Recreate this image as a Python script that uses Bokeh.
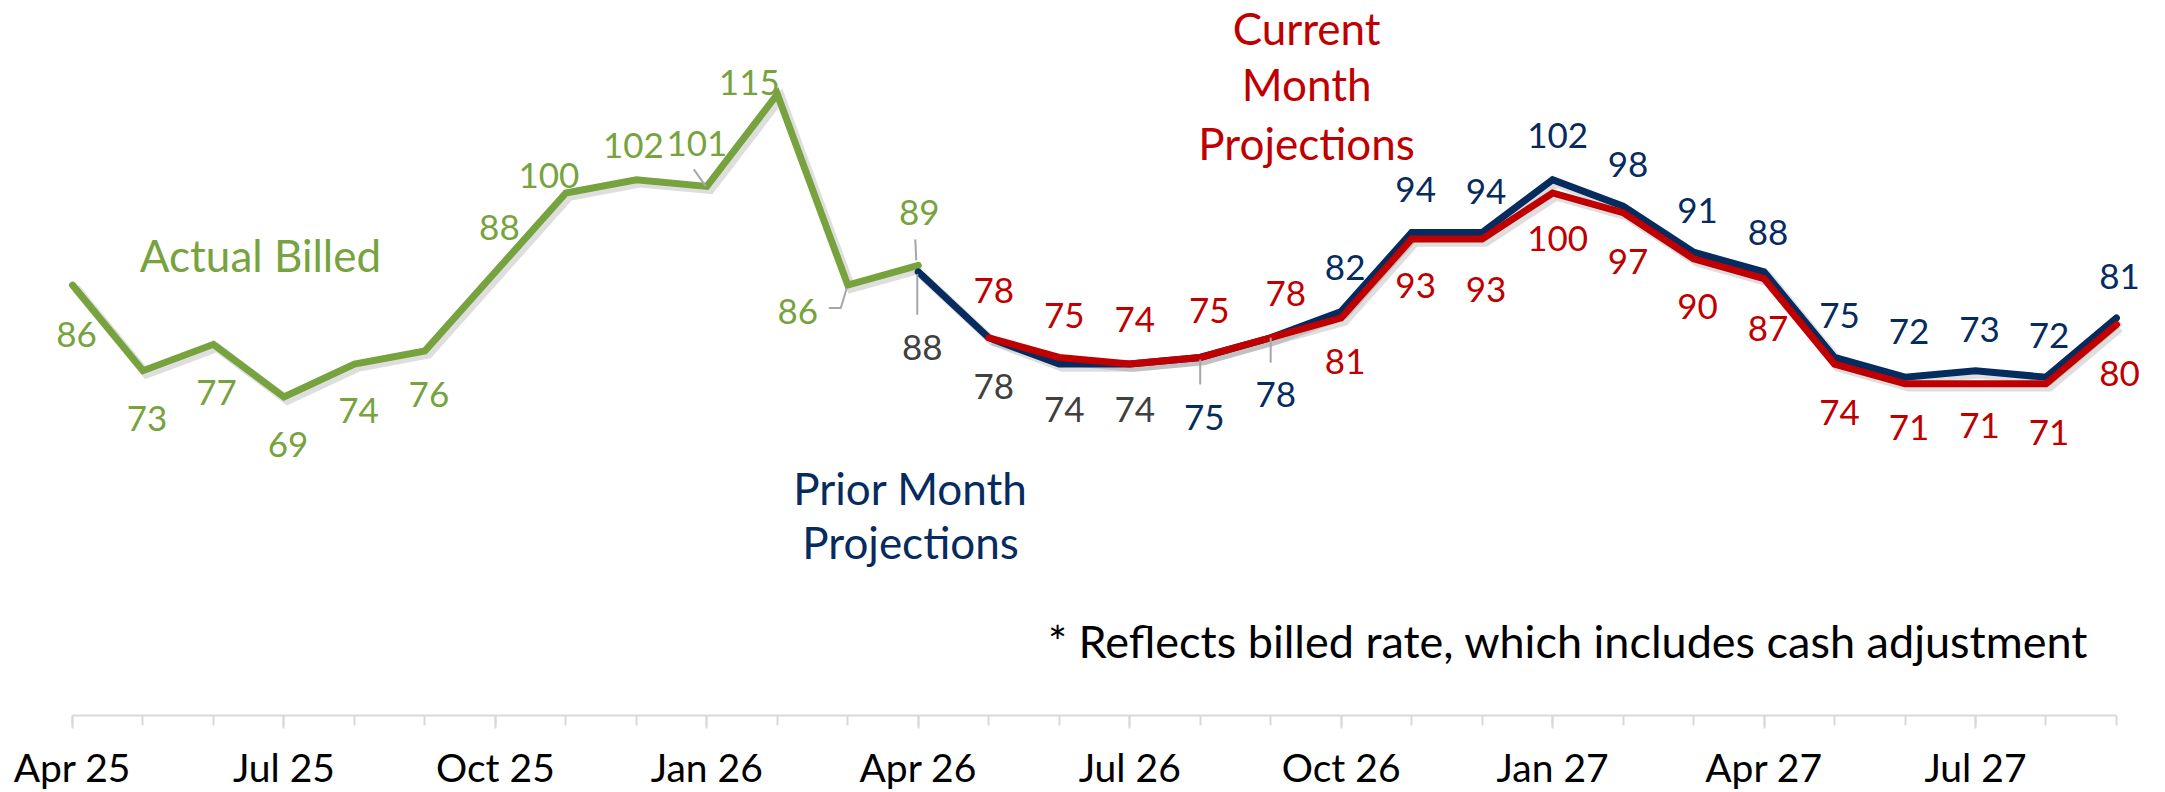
from bokeh.plotting import figure
from bokeh.models import ColumnDataSource, FixedTicker, Range1d
from bokeh.transform import dodge
from bokeh.core.properties import value
from bokeh.embed import file_html
from bokeh.resources import INLINE

# ---------------- data ----------------
months = ["Apr 25", "May 25", "Jun 25", "Jul 25", "Aug 25", "Sep 25", "Oct 25", "Nov 25",
          "Dec 25", "Jan 26", "Feb 26", "Mar 26", "Apr 26", "May 26", "Jun 26", "Jul 26",
          "Aug 26", "Sep 26", "Oct 26", "Nov 26", "Dec 26", "Jan 27", "Feb 27", "Mar 27",
          "Apr 27", "May 27", "Jun 27", "Jul 27", "Aug 27", "Sep 27"]
tick_labels = ["Apr 25", "Jul 25", "Oct 25", "Jan 26", "Apr 26", "Jul 26", "Oct 26",
               "Jan 27", "Apr 27", "Jul 27"]

actual_months = months[0:13]
actual = [86, 73, 77, 69, 74, 76, 88, 100, 102, 101, 115, 86, 89]

prior_months = months[12:30]
prior = [88, 78, 74, 74, 75, 78, 82, 94, 94, 102, 98, 91, 88, 75, 72, 73, 72, 81]

current_months = months[13:30]
current = [78, 75, 74, 75, 78, 81, 93, 93, 100, 97, 90, 87, 74, 71, 71, 71, 80]

series_names = ["Actual Billed", "Prior Month Projections", "Current Month Projections"]
footnote = "* Reflects billed rate, which includes cash adjustment"

# ---------------- styles / layout ----------------
GREEN = "#77A33E"
NAVY = "#062B5F"
RED = "#C00000"
GRAY = "#404040"
LEADER = "#A6A6A6"
AXIS = "#D9D9D9"
FONT = value("Lato")

W, H = 2165, 792
BOTTOM = 75
X0, X1 = -1.0216, 29.696
Y0, Y1 = 20.606, 129.24
PXX = W / (X1 - X0)
PXY = (H - BOTTOM) / (Y1 - Y0)

LABEL_SIZE = 35
CALLOUT_SIZE = 44
NOTE_SIZE = 45
BASE_FIX = 0.33   # em: correction of rendered baseline

# label offsets (pixels, centre of label relative to its point)
actual_dx = [4, 4, 3, 4, 4, 4, 4, -17, -3, -10, -28, -50, 1]
actual_dy = [48, 47, 47, 46, 45, 43, -45, -18, -35, -44, -13, 25, -54]
prior_dx = [4, 5, 5, 5, 4, 5, 4, 4, 4, 5, 5, 4, 4, 5, 4, 4, 3, 3]
prior_dy = [75, 48, 44, 44, 59, 56, -45, -44, -42, -45, -43, -43, -40, -43, -47, -42, -43, -43]
current_dx = [5, 5, 5, 9, 15, 4, 4, 4, 5, 5, 4, 4, 5, 4, 4, 3, 3]
current_dy = [-48, -43, -46, -48, -45, 42, 45, 49, 45, 48, 47, 49, 47, 43, 41, 48, 48]
HALF_DIGIT = 0.36 * LABEL_SIZE - BASE_FIX * LABEL_SIZE

idx = {m: i for i, m in enumerate(months)}

def src(mlist, vals, dx, dy, colors):
    return ColumnDataSource(dict(
        x=[idx[m] for m in mlist], y=vals, t=[str(v) for v in vals],
        dx=dx, dy=[d + HALF_DIGIT for d in dy], c=colors))

a_src = src(actual_months, actual, actual_dx, actual_dy, [GREEN] * len(actual))
p_src = src(prior_months, prior, prior_dx, prior_dy,
            [GRAY if i < 4 else NAVY for i in range(len(prior))])
c_src = src(current_months, current, current_dx, current_dy, [RED] * len(current))

p = figure(width=W, height=H, x_range=Range1d(X0, X1), y_range=Range1d(Y0, Y1),
           output_backend="svg", toolbar_location=None, y_axis_location=None,
           min_border_left=0, min_border_right=0, min_border_top=0, min_border_bottom=BOTTOM,
           background_fill_color="white", border_fill_color="white")
p.grid.visible = False
p.outline_line_color = None

# x axis
ax = p.xaxis[0]
ax.ticker = FixedTicker(ticks=[idx[t] for t in tick_labels], minor_ticks=list(range(len(months))))
ax.major_label_overrides = {idx[t]: t for t in tick_labels}
ax.bounds = (0, len(months) - 1)
ax.axis_line_color = AXIS
ax.axis_line_width = 2
ax.major_tick_line_color = AXIS
ax.major_tick_line_width = 2
ax.minor_tick_line_color = AXIS
ax.minor_tick_line_width = 2
ax.major_tick_in = 0
ax.major_tick_out = 13
ax.minor_tick_in = 0
ax.minor_tick_out = 10
ax.major_label_standoff = 15
ax.major_label_text_font = "Lato"
ax.major_label_text_font_size = "39px"
ax.major_label_text_color = "#000000"

# shadows
for s in (a_src, p_src, c_src):
    p.line(x=dodge("x", 0.05, range=p.x_range), y=dodge("y", -0.5, range=p.y_range), source=s,
           line_color="#000000", line_alpha=0.13, line_width=9, line_join="miter")

# lines
p.line("x", "y", source=a_src, line_color=GREEN, line_width=7, line_join="miter", line_cap="round")
p.line("x", "y", source=p_src, line_color=NAVY, line_width=7, line_join="miter", line_cap="round")
p.line("x", "y", source=c_src, line_color=RED, line_width=7, line_join="miter", line_cap="round")

# leader lines (pixel offsets from the labelled point)
leaders = [
    (idx["Jan 26"], actual[9], [(-13, -17), (-1, 0)]),
    (idx["Mar 26"], actual[11], [(-19, 23), (-7, 23), (-1, 3)]),
    (idx["Apr 26"], actual[12], [(-3, -26), (-2, -5)]),
    (idx["Apr 26"], prior[0], [(-1, 2), (-1, 43)]),
    (idx["Aug 26"], prior[4], [(0, 2), (0, 27)]),
    (idx["Sep 26"], prior[5], [(0, 0), (0, 25)]),
]
lx = [[x + dx / PXX for dx, dy in pts] for x, y, pts in leaders]
ly = [[y - dy / PXY for dx, dy in pts] for x, y, pts in leaders]
p.multi_line(xs=lx, ys=ly, line_color=LEADER, line_width=2)

# data labels
for s in (a_src, p_src, c_src):
    p.text(x="x", y="y", text="t", x_offset="dx", y_offset="dy", source=s,
           text_color="c", text_font=FONT, text_font_size=f"{LABEL_SIZE}px",
           text_align="center", text_baseline="alphabetic")

# series callouts (anchored in data space)
def callout(lines, x, ys, color, size=CALLOUT_SIZE, align="center"):
    p.text(x=[x] * len(lines), y=ys, text=lines, text_color=color, text_font=FONT,
           text_font_size=f"{size}px", text_align=align, text_baseline="alphabetic",
           y_offset=-BASE_FIX * size)

callout([series_names[0]], 2.667, [88.33], GREEN)
callout(["Prior Month", "Projections"], 11.89, [53.03, 44.70], NAVY)
callout(["Current", "Month", "Projections"], 17.51, [122.88, 114.39, 105.45], RED)
callout([footnote], 28.60, [29.70], "#000000", size=NOTE_SIZE, align="right")

open("out.html", "w").write(file_html(p, INLINE))
